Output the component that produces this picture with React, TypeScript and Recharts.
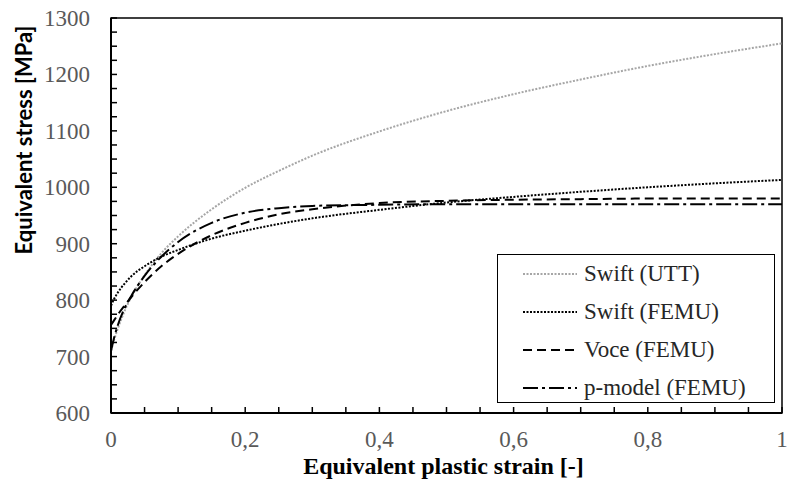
import { LineChart, Line, XAxis, YAxis, ReferenceArea, Legend, Label } from 'recharts';

// equivalent plastic strain [-]
const strain = [0, 0.005, 0.01, 0.02, 0.03, 0.05, 0.075, 0.1, 0.15, 0.2, 0.25, 0.3, 0.4, 0.5, 0.6, 0.7, 0.8, 0.9, 1];

// equivalent stress [MPa]
const swiftUTT = [710, 731, 749, 780, 805, 844, 883, 913, 961, 999, 1029, 1056, 1099, 1135, 1165, 1191, 1215, 1236, 1255];
const swiftFEMU = [790, 803, 813, 829, 842, 860, 877, 889, 909, 923, 935, 945, 960, 973, 983, 992, 1000, 1007, 1013];
const voceFEMU = [756, 765, 774, 790, 805, 832, 860, 882, 915, 937, 952, 961, 972, 976, 978, 979, 980, 980, 980];
const pModelFEMU = [710, 735, 755, 785, 807, 843, 877, 903, 937, 955, 963, 967, 969, 970, 970, 970, 970, 970, 970];

const xTicks = [0, 0.05, 0.1, 0.15, 0.2, 0.25, 0.3, 0.35, 0.4, 0.45, 0.5, 0.55, 0.6, 0.65, 0.7, 0.75, 0.8, 0.85, 0.9, 0.95, 1];
const yTicks = [600, 625, 650, 675, 700, 725, 750, 775, 800, 825, 850, 875, 900, 925, 950, 975, 1000, 1025, 1050, 1075, 1100, 1125, 1150, 1175, 1200, 1225, 1250, 1275, 1300];

const SERIES = [
    { key: 'swiftUTT', name: 'Swift (UTT)', color: '#a6a6a6', dash: '2 1.5' },
    { key: 'swiftFEMU', name: 'Swift (FEMU)', color: '#000', dash: '2 1.5' },
    { key: 'voceFEMU', name: 'Voce (FEMU)', color: '#000', dash: '9 5' },
    { key: 'pModelFEMU', name: 'p-model (FEMU)', color: '#000', dash: '15 4 3 4' },
];

const data = strain.map((s, i) => ({
    strain: s,
    swiftUTT: swiftUTT[i],
    swiftFEMU: swiftFEMU[i],
    voceFEMU: voceFEMU[i],
    pModelFEMU: pModelFEMU[i],
}));

const SERIF = 'Liberation Serif';

function XTick(props: any) {
    const { x, y, payload } = props;
    const v = payload.value as number;
    if (Math.round(v * 100) % 20 !== 0) return null;
    return (
        <text x={x} y={y} dy={13} textAnchor="middle" fill="#595959" fontSize={23} fontFamily={SERIF}>
            {String(v).replace('.', ',')}
        </text>
    );
}

function YTick(props: any) {
    const { x, y, payload } = props;
    const v = payload.value as number;
    if (v % 100 !== 0) return null;
    return (
        <text x={x} y={y} dy={8} textAnchor="end" fill="#595959" fontSize={23} fontFamily={SERIF}>
            {String(v)}
        </text>
    );
}

function LegendBox() {
    return (
        <div
            style={{
                width: 278,
                height: 149,
                boxSizing: 'border-box',
                border: '1.5px solid #000',
                background: '#fff',
                position: 'relative',
            }}
        >
            {SERIES.map((s, i) => (
                <div
                    key={s.key}
                    style={{
                        position: 'absolute',
                        left: 24,
                        top: 19 + i * 38 - 14,
                        height: 28,
                        display: 'flex',
                        alignItems: 'center',
                    }}
                >
                    <svg width={56} height={10} style={{ marginRight: 6 }}>
                        <line x1={1} y1={5} x2={55} y2={5} stroke={s.color} strokeWidth={2} strokeDasharray={s.dash} />
                    </svg>
                    <span style={{ fontFamily: SERIF, fontSize: 23, color: '#262626', whiteSpace: 'nowrap' }}>{s.name}</span>
                </div>
            ))}
        </div>
    );
}

export default function App() {
    return (
        <div style={{ position: 'absolute', left: 0, top: 0, width: 794, height: 487, background: '#fff', fontFamily: SERIF }}>
            <LineChart
                width={794}
                height={487}
                data={data}
                margin={{ top: 18, right: 12, left: 0, bottom: 0 }}
            >
                <ReferenceArea x1={0} x2={1} y1={600} y2={1300} fill="none" stroke="#000" strokeWidth={1.5} />
                <XAxis
                    dataKey="strain"
                    type="number"
                    domain={[0, 1]}
                    ticks={xTicks}
                    interval={0}
                    height={74}
                    tick={<XTick />}
                    tickSize={-6}
                    tickMargin={27}
                    axisLine={{ stroke: '#000', strokeWidth: 2 }}
                    tickLine={{ stroke: '#000', strokeWidth: 1.5 }}
                >
                    <Label
                        content={(props: any) => {
                            const vb = props.viewBox || { x: 111, y: 413, width: 671, height: 74 };
                            const cx = vb.x + vb.width / 2 - 3;
                            const cy = vb.y + vb.height - 13;
                            return (
                                <text x={cx} y={cy} textAnchor="middle" fontFamily={SERIF} fontSize={24} fontWeight={700} fill="#000">
                                    Equivalent plastic strain [-]
                                </text>
                            );
                        }}
                    />
                </XAxis>
                <YAxis
                    type="number"
                    domain={[600, 1300]}
                    ticks={yTicks}
                    interval={0}
                    width={111}
                    tick={<YTick />}
                    tickSize={-6}
                    tickMargin={27}
                    axisLine={{ stroke: '#000', strokeWidth: 2 }}
                    tickLine={{ stroke: '#000', strokeWidth: 1.5 }}
                >
                    <Label
                        content={(props: any) => {
                            const vb = props.viewBox || { x: 0, y: 18 };
                            const cx = vb.x + 23;
                            const cy = vb.y + 122;
                            return (
                                <text
                                    x={cx}
                                    y={cy}
                                    transform={`rotate(-90, ${cx}, ${cy})`}
                                    textAnchor="middle"
                                    dominantBaseline="central"
                                    fontFamily="Lato"
                                    fontSize={22}
                                    fontWeight={700}
                                    fill="#000"
                                >
                                    Equivalent stress [MPa]
                                </text>
                            );
                        }}
                    />
                </YAxis>
                {SERIES.map((s) => (
                    <Line
                        key={s.key}
                        dataKey={s.key}
                        name={s.name}
                        type="monotone"
                        stroke={s.color}
                        strokeWidth={2}
                        strokeDasharray={s.dash}
                        dot={false}
                        activeDot={false}
                        isAnimationActive={false}
                    />
                ))}
                <Legend
                    layout="vertical"
                    align="center"
                    verticalAlign="middle"
                    content={() => <LegendBox />}
                    wrapperStyle={{ left: 497, top: 254, width: 278, height: 149 }}
                />
            </LineChart>
        </div>
    );
}
